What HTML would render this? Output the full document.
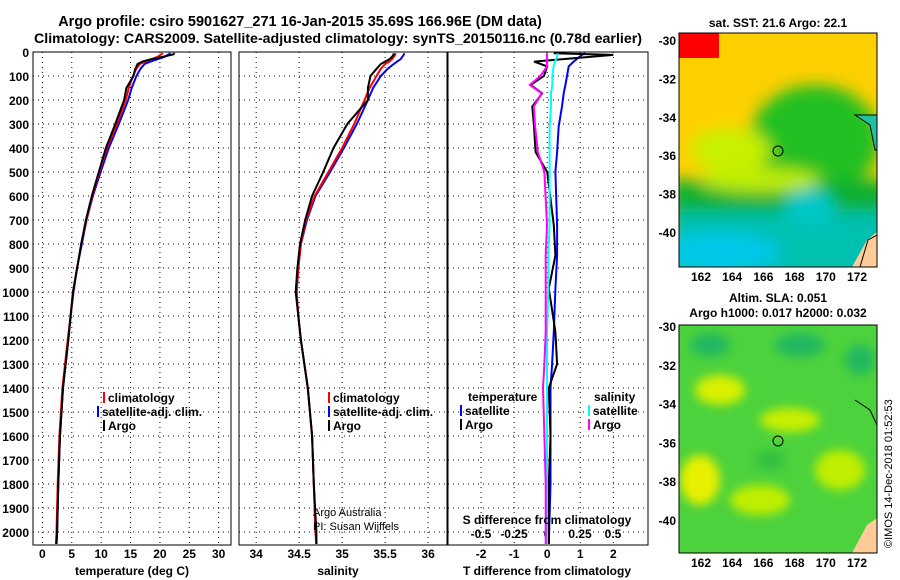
<!DOCTYPE html>
<html><head><meta charset="utf-8"><style>
body{margin:0;background:#fff}
svg{display:block;font-family:"Liberation Sans",sans-serif;font-weight:bold}
</style></head><body>
<svg id="c" width="900" height="580" viewBox="0 0 900 580">
<defs>
<filter id="bl" x="-50%" y="-50%" width="200%" height="200%"><feGaussianBlur stdDeviation="8"/></filter>
<filter id="bl2" x="-50%" y="-50%" width="200%" height="200%"><feGaussianBlur stdDeviation="5"/></filter>
<clipPath id="m1c"><rect x="679" y="33" width="198" height="234"/></clipPath>
<clipPath id="m2c"><rect x="679" y="325" width="198" height="228"/></clipPath>
</defs>
<text x="300" y="26" font-size="14.5" text-anchor="middle">Argo profile: csiro 5901627_271 16-Jan-2015 35.69S 166.96E (DM data)</text>
<text x="338" y="43" font-size="14.2" text-anchor="middle">Climatology: CARS2009. Satellite-adjusted climatology: synTS_20150116.nc (0.78d earlier)</text>
<g id="g"></g>
<g clip-path="url(#m1c)">
<rect x="679" y="33" width="198" height="234" fill="#ffd000"/>
<rect x="679" y="33" width="40" height="25" fill="#ff0000"/>
<g filter="url(#bl)">
<ellipse cx="815" cy="140" rx="65" ry="55" fill="#20c020"/>
<ellipse cx="730" cy="150" rx="40" ry="22" fill="#c8f000"/>
<rect x="670" y="180" width="220" height="35" fill="#10b030"/>
<rect x="670" y="212" width="220" height="70" fill="#00c0b0"/>
<ellipse cx="720" cy="252" rx="60" ry="20" fill="#00c8e8"/>
<ellipse cx="810" cy="207" rx="25" ry="18" fill="#00c8c8"/>
<ellipse cx="760" cy="180" rx="60" ry="12" fill="#c0ee00"/>
</g>
<path d="M855 115 L870 125 L875 150 L877 150 L877 115 Z" fill="#20c0a0" stroke="#000" stroke-width="1"/>
<path d="M867 240 L877 232 L877 267 L852 267 Z" fill="#ffcc99"/>
<path d="M860 267 L868 240 L877 235" fill="none" stroke="#000"/>
</g>
<rect x="679" y="33" width="198" height="234" fill="none" stroke="#000"/>
<circle cx="778" cy="151" r="5" fill="none" stroke="#000"/>
<text x="778" y="27" font-size="12" text-anchor="middle">sat. SST: 21.6 Argo: 22.1</text>
<g clip-path="url(#m2c)">
<rect x="679" y="325" width="198" height="228" fill="#4cd23c"/>
<g filter="url(#bl2)">
<ellipse cx="720" cy="390" rx="25" ry="15" fill="#d8f000"/>
<ellipse cx="790" cy="420" rx="30" ry="12" fill="#c8f000"/>
<ellipse cx="700" cy="480" rx="20" ry="25" fill="#e8f000"/>
<ellipse cx="760" cy="500" rx="30" ry="15" fill="#c0ee00"/>
<ellipse cx="840" cy="470" rx="25" ry="20" fill="#c0ee00"/>
<ellipse cx="710" cy="345" rx="20" ry="12" fill="#20b860"/>
<ellipse cx="800" cy="345" rx="25" ry="12" fill="#20b860"/>
<ellipse cx="860" cy="360" rx="15" ry="15" fill="#20b860"/>
<ellipse cx="770" cy="460" rx="15" ry="10" fill="#30c040"/>
</g>
<path d="M867 525 L877 518 L877 553 L852 553 Z" fill="#ffcc99"/>
<path d="M855 400 L870 410 L877 425" fill="none" stroke="#000"/>
</g>
<rect x="679" y="325" width="198" height="228" fill="none" stroke="#000"/>
<circle cx="778" cy="441" r="5" fill="none" stroke="#000"/>
<text x="778" y="302" font-size="12" text-anchor="middle">Altim. SLA: 0.051</text>
<text x="778" y="317" font-size="12" text-anchor="middle">Argo h1000: 0.017 h2000: 0.032</text>
<text transform="translate(892,548) rotate(-90)" font-size="11" font-weight="normal">©IMOS 14-Dec-2018 01:52:53</text>
<text x="313" y="516" font-size="11" font-weight="normal">Argo Australia</text>
<text x="313" y="530" font-size="11" font-weight="normal">PI: Susan Wijffels</text>
</svg>
<script>
const depths=[5,10,20,30,40,50,70,100,150,200,300,400,500,600,700,800,900,1000,1100,1200,1400,1600,1800,2000,2050];
const argoT=[22.5,22.3,20.5,18.5,17.0,16.2,15.8,15.5,14.3,13.9,12.4,10.8,9.6,8.4,7.4,6.6,5.9,5.2,4.8,4.4,3.5,3.0,2.7,2.5,2.4];
const climT=[20.5,20.2,19.6,18.6,17.5,16.6,16.0,15.4,14.7,14.2,12.7,11.0,9.7,8.5,7.5,6.6,5.9,5.2,4.8,4.3,3.4,2.9,2.6,2.4,2.3];
const satT=[21.8,21.5,20.8,19.6,18.4,17.4,16.7,16.0,15.2,14.6,13.0,11.3,9.9,8.6,7.5,6.7,5.9,5.3,4.8,4.4,3.5,3.0,2.7,2.5,2.4];
const argoS=[35.6,35.6,35.58,35.55,35.5,35.45,35.4,35.33,35.3,35.3,35.06,34.9,34.78,34.65,34.57,34.51,34.48,34.46,34.49,34.52,34.6,34.65,34.67,34.7,34.7];
const climS=[35.62,35.62,35.6,35.58,35.55,35.5,35.45,35.4,35.32,35.26,35.14,35.0,34.84,34.68,34.58,34.52,34.49,34.47,34.49,34.52,34.6,34.65,34.67,34.69,34.7];
const satS=[35.72,35.72,35.7,35.68,35.64,35.6,35.53,35.45,35.36,35.3,35.17,35.02,34.86,34.69,34.59,34.52,34.49,34.47,34.49,34.52,34.6,34.65,34.67,34.69,34.7];
const diffDepths=[5,12,40,60,100,137,172,227,310,417,500,722,847,986,1166,1300,1400,1600,1800,2050];
const argoTd=[0.2,2.0,-0.4,0.0,-0.1,-0.5,-0.15,-0.45,-0.4,-0.35,0.0,0.2,0.25,0.05,0.25,0.3,0.05,0.1,0.05,0.05];
const satTd=[1.15,1.05,0.8,0.65,0.6,0.55,0.5,0.45,0.35,0.3,0.25,0.3,0.3,0.25,0.2,0.15,0.1,0.1,0.1,0.05];
const argoSd=[0.0,0.0,0.0,0.0,-0.05,-0.13,-0.04,-0.1,-0.09,-0.07,-0.02,0.0,-0.01,-0.01,-0.01,-0.02,-0.03,-0.02,-0.01,-0.01];
const satSd=[0.08,0.08,0.06,0.05,0.04,0.04,0.03,0.03,0.02,0.02,0.02,0.02,0.01,0.01,0.0,0.0,0.0,0.0,0.0,0.0];
const depthTicks=[0,100,200,300,400,500,600,700,800,900,1000,1100,1200,1300,1400,1500,1600,1700,1800,1900,2000];
const tTicks=[0,5,10,15,20,25,30];
const sTicks=[34,34.5,35,35.5,36];
const tdTicks=[-2,-1,0,1,2];
const sdTicks=[-0.5,-0.25,0,0.25,0.5];
const latTicks=[-30,-32,-34,-36,-38,-40];
const lonTicks=[162,164,166,168,170,172];

const NS="http://www.w3.org/2000/svg";
const G=document.getElementById('g');
function mk(t,a,p){const e=document.createElementNS(NS,t);for(const k in a)e.setAttribute(k,a[k]);(p||G).appendChild(e);return e;}
const Y=d=>52+d*0.24;
const yTop=52,yBot=545;
const panels=[{x0:33,x1:231,lo:-1.6,hi:32.1},{x0:239,x1:447,lo:33.8,hi:36.22},{x0:448,x1:648,lo:-3,hi:3.05}];
function sx(p,v){return p.x0+(v-p.lo)/(p.hi-p.lo)*(p.x1-p.x0);}
const sdx=v=>547+v*132;
function grid(p,ticks,fx,name){
  const fr=mk('rect',{x:p.x0,y:yTop,width:p.x1-p.x0,height:yBot-yTop,fill:'none',stroke:'#000'});
  
  
  ticks.forEach(t=>{const x=fx(t);
    const l=mk('line',{x1:x,x2:x,y1:yTop,y2:yBot,stroke:'#000','stroke-dasharray':'1 4'});
    
    
    const tx=mk('text',{x:x,y:558,'font-size':12,'text-anchor':'middle'});tx.textContent=t;
    
    
  });
  depthTicks.forEach(d=>{const l=mk('line',{x1:p.x0,x2:p.x1,y1:Y(d),y2:Y(d),stroke:'#000','stroke-dasharray':'1 4'});
    
    });
}
grid(panels[0],tTicks,v=>sx(panels[0],v),'temperature');
grid(panels[1],sTicks,v=>sx(panels[1],v),'salinity');
grid(panels[2],tdTicks,v=>sx(panels[2],v),'difference');
sdTicks.forEach(t=>{const tx=mk('text',{x:sdx(t),y:538,'font-size':12,'text-anchor':'middle'});tx.textContent=t;
  
  });
depthTicks.forEach(d=>{const tx=mk('text',{x:29,y:Y(d)+5,'font-size':12,'text-anchor':'end'});tx.textContent=d;
  
  });
function line(vals,dz,fx,col,name){
  const pts=vals.map((v,i)=>fx(v).toFixed(1)+','+Y(dz[i]).toFixed(1)).join(' ');
  const e=mk('polyline',{points:pts,fill:'none',stroke:col,'stroke-width':2});
  
  
}
const f0=v=>sx(panels[0],v),f1=v=>sx(panels[1],v),f2=v=>sx(panels[2],v);
line(satT,depths,f0,'#0000ff','temp-satellite-line');line(climT,depths,f0,'#ff0000','temp-climatology-line');line(argoT,depths,f0,'#000','temp-argo-line');
line(satS,depths,f1,'#0000ff','sal-satellite-line');line(climS,depths,f1,'#ff0000','sal-climatology-line');line(argoS,depths,f1,'#000','sal-argo-line');
line(satTd,diffDepths,f2,'#0000ff','tdiff-satellite-line');line(argoTd,diffDepths,f2,'#000','tdiff-argo-line');
line(satSd,diffDepths,sdx,'#00ffff','sdiff-satellite-line');line(argoSd,diffDepths,sdx,'#ff00ff','sdiff-argo-line');
function leg(x,y,col,txt,name){
  const r=mk('rect',{x:x,y:y-10,width:2,height:11,fill:col});
  
  
  const t=mk('text',{x:x+5,y:y,'font-size':12});t.textContent=txt;
  
  
}
[[103,'climatology','#ff0000'],[97,'satellite-adj. clim.','#0000ff'],[103,'Argo','#000']].forEach((a,i)=>leg(a[0],402+i*14,a[2],a[1],'temp-legend-'+i));
[[328,'climatology','#ff0000'],[328,'satellite-adj. clim.','#0000ff'],[328,'Argo','#000']].forEach((a,i)=>leg(a[0],402+i*14,a[2],a[1],'sal-legend-'+i));
let t=mk('text',{x:468,y:401,'font-size':12});t.textContent='temperature';


t=mk('text',{x:594,y:401,'font-size':12});t.textContent='salinity';


leg(460,415,'#0000ff','satellite','tdiff-legend-sat');leg(460,429,'#000','Argo','tdiff-legend-argo');
leg(588,415,'#00ffff','satellite','sdiff-legend-sat');leg(588,429,'#ff00ff','Argo','sdiff-legend-argo');
t=mk('text',{x:547,y:524,'font-size':12,'text-anchor':'middle'});t.textContent='S difference from climatology';


[['temperature (deg C)',132,'temperature-axis-title'],['salinity',338,'salinity-axis-title'],['T difference from climatology',547,'t-diff-axis-title']].forEach(a=>{
  const e=mk('text',{x:a[1],y:575,'font-size':12,'text-anchor':'middle'});e.textContent=a[0];
  
  });
function mapAxes(y0,y1,latY,name){
  latTicks.forEach(l=>{const y=latY(l);
    mk('line',{x1:679,x2:684,y1:y,y2:y,stroke:'#000'});mk('line',{x1:872,x2:877,y1:y,y2:y,stroke:'#000'});
    const e=mk('text',{x:676,y:y+4,'font-size':12,'text-anchor':'end'});e.textContent=l;
    
    });
  lonTicks.forEach(l=>{const x=701+(l-162)*15.6;
    mk('line',{x1:x,x2:x,y1:y0,y2:y0+4,stroke:'#000'});mk('line',{x1:x,x2:x,y1:y1-4,y2:y1,stroke:'#000'});
    const e=mk('text',{x:x,y:y1+14,'font-size':12,'text-anchor':'middle'});e.textContent=l;
    
    });
}
mapAxes(33,267,l=>41+(-30-l)*19.2,'sst-map');
mapAxes(325,553,l=>327+(-30-l)*19.4,'sla-map');
</script>
</body></html>
